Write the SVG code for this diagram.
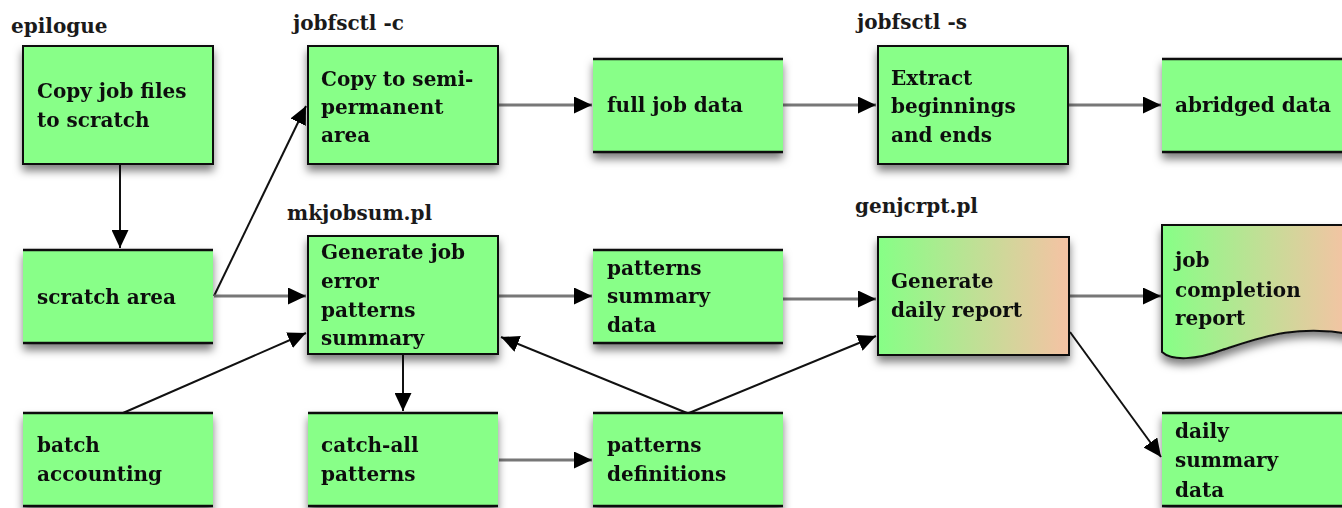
<svg xmlns="http://www.w3.org/2000/svg" width="1342" height="508" viewBox="0 0 1342 508">
<style>
text{font-family:"DejaVu Serif","Liberation Serif",serif;font-weight:bold;font-size:20px;fill:#111}
.lbl{font-size:20px;fill:#1a1a1a}
.box{fill:#88ff88;stroke:#111;stroke-width:2}
.ds{fill:#88ff88}
.dsl{stroke:#111;stroke-width:2.5}
.c{fill:none;stroke:#111;stroke-width:2}
.h{fill:none;stroke:#777;stroke-width:3}
</style>
<defs>
<filter id="sh" x="-10%" y="-10%" width="125%" height="140%">
<feDropShadow dx="0" dy="6" stdDeviation="4" flood-color="#000" flood-opacity="0.5"/>
</filter>
<linearGradient id="gr" x1="0" y1="0" x2="1" y2="0">
<stop offset="0" stop-color="#86ff86"/>
<stop offset="1" stop-color="#f6c2a4"/>
</linearGradient>
<marker id="ah" markerUnits="userSpaceOnUse" markerWidth="19" markerHeight="17" refX="18" refY="8.5" orient="auto">
<path d="M0,0 L18,8.5 L0,17 Z" fill="#000"/>
</marker>
</defs>

<g id="labels">
<text class="lbl" x="11" y="33">epilogue</text>
<text class="lbl" x="293" y="30">jobfsctl -c</text>
<text class="lbl" x="857" y="29">jobfsctl -s</text>
<text class="lbl" x="287" y="220">mkjobsum.pl</text>
<text class="lbl" x="855" y="213">genjcrpt.pl</text>
</g>

<g id="connectors">
<line class="c" x1="120" y1="165" x2="120" y2="248" marker-end="url(#ah)"/>
<line class="c" x1="214" y1="296" x2="306" y2="106" marker-end="url(#ah)"/>
<line class="h" x1="214" y1="296" x2="306" y2="296" marker-end="url(#ah)"/>
<line class="h" x1="499" y1="105" x2="592" y2="105" marker-end="url(#ah)"/>
<line class="h" x1="783" y1="105" x2="876" y2="105" marker-end="url(#ah)"/>
<line class="h" x1="1069" y1="105" x2="1161" y2="105" marker-end="url(#ah)"/>
<line class="h" x1="499" y1="296" x2="592" y2="296" marker-end="url(#ah)"/>
<line class="h" x1="783" y1="299" x2="876" y2="299" marker-end="url(#ah)"/>
<line class="h" x1="1070" y1="296" x2="1161" y2="296" marker-end="url(#ah)"/>
<line class="c" x1="1070" y1="332" x2="1161" y2="457" marker-end="url(#ah)"/>
<line class="c" x1="123" y1="413" x2="306" y2="333" marker-end="url(#ah)"/>
<line class="c" x1="403" y1="355" x2="403" y2="411" marker-end="url(#ah)"/>
<line class="h" x1="499" y1="460" x2="592" y2="460" marker-end="url(#ah)"/>
<line class="c" x1="687" y1="413" x2="501" y2="337" marker-end="url(#ah)"/>
<line class="c" x1="689" y1="413" x2="876" y2="336" marker-end="url(#ah)"/>
</g>

<g id="copy-job-files" filter="url(#sh)">
<rect class="box" x="23" y="46" width="190" height="118"/>
<text x="37" y="98">Copy job files</text>
<text x="37" y="127">to scratch</text>
</g>

<g id="copy-semi-permanent" filter="url(#sh)">
<rect class="box" x="308" y="46" width="190" height="118"/>
<text x="321" y="86">Copy to semi-</text>
<text x="321" y="114">permanent</text>
<text x="321" y="142">area</text>
</g>

<g id="full-job-data" filter="url(#sh)">
<rect class="ds" x="593" y="59" width="190" height="93"/>
<line class="dsl" x1="593" y1="59" x2="783" y2="59"/>
<line class="dsl" x1="593" y1="152" x2="783" y2="152"/>
<text x="607" y="112">full job data</text>
</g>

<g id="extract" filter="url(#sh)">
<rect class="box" x="878" y="46" width="190" height="118"/>
<text x="891" y="85">Extract</text>
<text x="891" y="113">beginnings</text>
<text x="891" y="142">and ends</text>
</g>

<g id="abridged-data" filter="url(#sh)">
<rect class="ds" x="1162" y="59" width="190" height="93"/>
<line class="dsl" x1="1162" y1="59" x2="1352" y2="59"/>
<line class="dsl" x1="1162" y1="152" x2="1352" y2="152"/>
<text x="1175" y="112">abridged data</text>
</g>

<g id="scratch-area" filter="url(#sh)">
<rect class="ds" x="23" y="250" width="190" height="93"/>
<line class="dsl" x1="23" y1="250" x2="213" y2="250"/>
<line class="dsl" x1="23" y1="343" x2="213" y2="343"/>
<text x="37" y="304">scratch area</text>
</g>

<g id="generate-summary" filter="url(#sh)">
<rect class="box" x="308" y="236" width="190" height="118"/>
<text x="321" y="259">Generate job</text>
<text x="321" y="288">error</text>
<text x="321" y="317">patterns</text>
<text x="321" y="345">summary</text>
</g>

<g id="patterns-summary-data" filter="url(#sh)">
<rect class="ds" x="593" y="250" width="190" height="93"/>
<line class="dsl" x1="593" y1="250" x2="783" y2="250"/>
<line class="dsl" x1="593" y1="343" x2="783" y2="343"/>
<text x="607" y="275">patterns</text>
<text x="607" y="303">summary</text>
<text x="607" y="332">data</text>
</g>

<g id="generate-daily-report" filter="url(#sh)">
<rect x="878" y="237" width="191" height="118" fill="url(#gr)" stroke="#111" stroke-width="2"/>
<text x="891" y="288">Generate</text>
<text x="891" y="317">daily report</text>
</g>

<g id="job-completion-report" filter="url(#sh)">
<path d="M1162,225 H1350 V334 C1295,324 1260,338 1222,350 C1196,360 1172,361 1162,352 Z" fill="url(#gr)" stroke="#111" stroke-width="2"/>
<text x="1175" y="267">job</text>
<text x="1175" y="297">completion</text>
<text x="1175" y="325">report</text>
</g>

<g id="batch-accounting" filter="url(#sh)">
<rect class="ds" x="23" y="413" width="190" height="93"/>
<line class="dsl" x1="23" y1="413" x2="213" y2="413"/>
<line class="dsl" x1="23" y1="506" x2="213" y2="506"/>
<text x="37" y="452">batch</text>
<text x="37" y="481">accounting</text>
</g>

<g id="catch-all-patterns" filter="url(#sh)">
<rect class="ds" x="308" y="413" width="190" height="93"/>
<line class="dsl" x1="308" y1="413" x2="498" y2="413"/>
<line class="dsl" x1="308" y1="506" x2="498" y2="506"/>
<text x="321" y="452">catch-all</text>
<text x="321" y="481">patterns</text>
</g>

<g id="patterns-definitions" filter="url(#sh)">
<rect class="ds" x="593" y="413" width="190" height="93"/>
<line class="dsl" x1="593" y1="413" x2="783" y2="413"/>
<line class="dsl" x1="593" y1="506" x2="783" y2="506"/>
<text x="607" y="452">patterns</text>
<text x="607" y="481">definitions</text>
</g>

<g id="daily-summary-data" filter="url(#sh)">
<rect class="ds" x="1162" y="413" width="190" height="93"/>
<line class="dsl" x1="1162" y1="413" x2="1352" y2="413"/>
<line class="dsl" x1="1162" y1="506" x2="1352" y2="506"/>
<text x="1175" y="438">daily</text>
<text x="1175" y="467">summary</text>
<text x="1175" y="497">data</text>
</g>
</svg>
